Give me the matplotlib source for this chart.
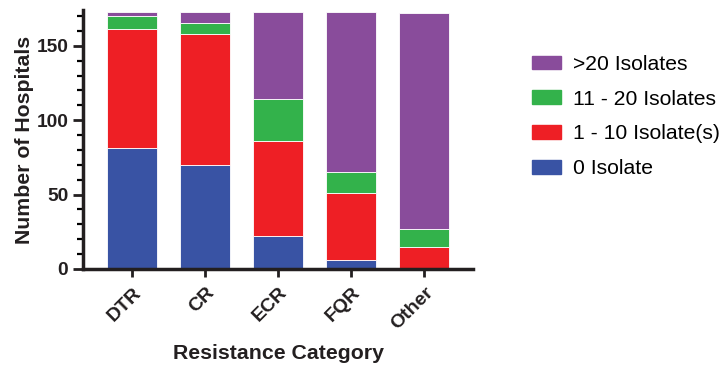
import matplotlib
matplotlib.use('Agg')
import matplotlib.pyplot as plt
from matplotlib.patches import Patch
from matplotlib.ticker import MultipleLocator

plt.rcParams['font.family'] = ['Liberation Sans', 'DejaVu Sans']

categories = ['DTR', 'CR', 'ECR', 'FQR', 'Other']
zero_iso = [81, 70, 22, 6, 0]
one_ten = [80, 88, 64, 45, 15]
eleven_twenty = [9, 7, 28, 14, 12]
over_twenty = [3, 8, 59, 108, 145]

series = [('0 Isolate', zero_iso, '#3953a4'),
          ('1 - 10 Isolate(s)', one_ten, '#ee1f25'),
          ('11 - 20 Isolates', eleven_twenty, '#33b24b'),
          ('>20 Isolates', over_twenty, '#894c9b')]

fig = plt.figure(figsize=(7.26, 3.71), dpi=100)
ax = fig.add_axes([0.114, 0.275, 0.538, 0.698])

x = list(range(len(categories)))
bottom = [0] * len(categories)
handles = []
for name, vals, col in series:
    ax.bar(x, vals, 0.685, bottom=bottom, color=col, edgecolor='white', linewidth=0.6)
    bottom = [b + v for b, v in zip(bottom, vals)]
    handles.append(Patch(facecolor=col, edgecolor=col, label=name))

ax.set_xlim(-0.68, 4.67)
ax.set_ylim(0, 174)
ax.yaxis.set_major_locator(MultipleLocator(50))
ax.yaxis.set_minor_locator(MultipleLocator(10))
ax.set_xticks(x)
ax.set_xticklabels(categories, rotation=45, ha='right', rotation_mode='anchor',
                   fontweight='bold', fontsize=14)
for lab in ax.get_yticklabels():
    lab.set_fontweight('bold')
ax.tick_params(axis='y', labelsize=13.8, width=2, length=7, color='#231f20', labelcolor='#231f20')
ax.tick_params(axis='y', which='minor', width=1.6, length=4)
ax.tick_params(axis='x', width=2, length=6, pad=5, color='#231f20', labelcolor='#231f20')

for s in ['top', 'right']:
    ax.spines[s].set_visible(False)
for s in ['left', 'bottom']:
    ax.spines[s].set_linewidth(2.5)
    ax.spines[s].set_color('#231f20')

ax.set_ylabel('Number of Hospitals', fontweight='bold', fontsize=15.3, color='#231f20', labelpad=2)
ax.set_xlabel('Resistance Category', fontweight='bold', fontsize=15.3, color='#231f20', labelpad=8)

fig.legend(handles=handles[::-1], loc='upper left', bbox_to_anchor=(0.721, 0.875),
           frameon=False, fontsize=15.2, handlelength=1.4, handleheight=0.62,
           labelspacing=0.75, handletextpad=0.55, borderaxespad=0)

plt.savefig('out.png', dpi=100)
plt.close()
